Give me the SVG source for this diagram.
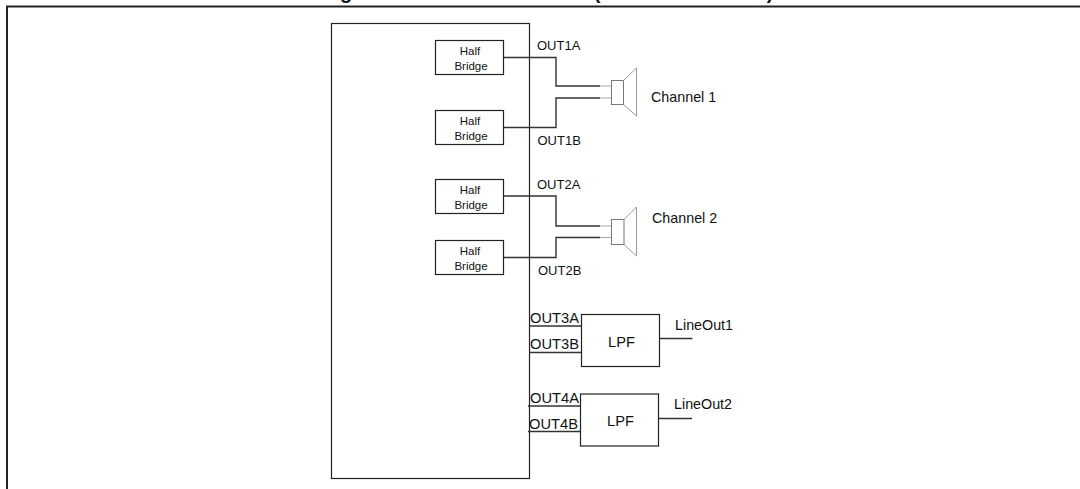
<svg xmlns="http://www.w3.org/2000/svg" width="1080" height="489" viewBox="0 0 1080 489">
<style>
text{font-family:"Liberation Sans",Arial,sans-serif;fill:#111}
.box{fill:#fff;stroke:#222;stroke-width:1.2}
.frame{fill:none;stroke:#222;stroke-width:2}
.w{fill:none;stroke:#333;stroke-width:1.4}
.lw{fill:none;stroke:#aaa;stroke-width:1.2}
.spk{fill:#fff;stroke:#777;stroke-width:1}
.cone{fill:none;stroke:#999;stroke-width:1}
.hb{font-size:11.5px;text-anchor:middle}
.o{font-size:13px}
.o2{font-size:14.7px}
.c{font-size:14.3px}
.title{font-size:20px;font-weight:bold;text-anchor:middle}
</style>
<rect width="1080" height="489" fill="#fff"/>
<g id="title-fragments">
<text class="title" x="346" y="-1">g</text>
<text class="title" x="597" y="-1">(</text>
<text class="title" x="770" y="-1">)</text>
</g>
<path id="frame" class="frame" d="M1080 6.5H7V489"/>
<rect id="main-box" x="331.5" y="23.5" width="198" height="455" fill="#fff" stroke="#222" stroke-width="1.2"/>
<g id="connectors">
<path class="w" d="M503.5 57.5H556V86H600"/>
<path class="w" d="M503.5 127.5H556V98H600"/>
<path class="w" d="M503.5 196H556V226H600"/>
<path class="w" d="M503.5 257.5H556V237.5H600"/>
<path class="lw" d="M600 86H611M600 98H611M600 226H612M600 237.5H612"/>
<path class="w" d="M529.5 326H582M529.5 352.5H582M528 406H581M528 431.5H581"/>
<path class="w" d="M659 338.5H692.5"/>
<path class="w" d="M659 418.5H692"/>
</g>
<g id="half-bridge-1"><rect class="box" x="435.5" y="40.5" width="68" height="34"/><text class="hb" x="470" y="55">Half</text><text class="hb" x="471" y="70">Bridge</text></g>
<g id="half-bridge-2"><rect class="box" x="435.5" y="110.5" width="68" height="34"/><text class="hb" x="470" y="125">Half</text><text class="hb" x="471" y="140">Bridge</text></g>
<g id="half-bridge-3"><rect class="box" x="435.5" y="179.5" width="68" height="34"/><text class="hb" x="470" y="194">Half</text><text class="hb" x="471" y="209">Bridge</text></g>
<g id="half-bridge-4"><rect class="box" x="435.5" y="240.5" width="68" height="34"/><text class="hb" x="470" y="255">Half</text><text class="hb" x="471" y="270">Bridge</text></g>
<g id="speaker-1"><rect class="spk" x="611.5" y="80.5" width="12" height="24"/><path class="cone" d="M623.5 80.5L636.5 68V116L623.5 104.5"/><text class="c" x="651" y="102">Channel 1</text></g>
<g id="speaker-2"><rect class="spk" x="611.5" y="219.5" width="12.5" height="25"/><path class="cone" d="M624 219.5L636.5 207V256L624 244.5"/><text class="c" x="652" y="223">Channel 2</text></g>
<g id="lpf-1"><rect class="box" x="581.5" y="314.5" width="78" height="52"/><text class="o2" x="621.5" y="347" text-anchor="middle">LPF</text></g>
<g id="lpf-2"><rect class="box" x="580.5" y="394" width="78" height="52"/><text class="o2" x="620.5" y="426" text-anchor="middle">LPF</text></g>
<g id="labels">
<text class="o" x="537" y="50">OUT1A</text>
<text class="o" x="537.5" y="145">OUT1B</text>
<text class="o" x="537" y="189">OUT2A</text>
<text class="o" x="538" y="275">OUT2B</text>
<text class="o2" x="530" y="323">OUT3A</text>
<text class="o2" x="530" y="349">OUT3B</text>
<text class="o2" x="530" y="403">OUT4A</text>
<text class="o2" x="529" y="429">OUT4B</text>
<text class="c" x="675" y="330">LineOut1</text>
<text class="c" x="674" y="409">LineOut2</text>
</g>
</svg>
